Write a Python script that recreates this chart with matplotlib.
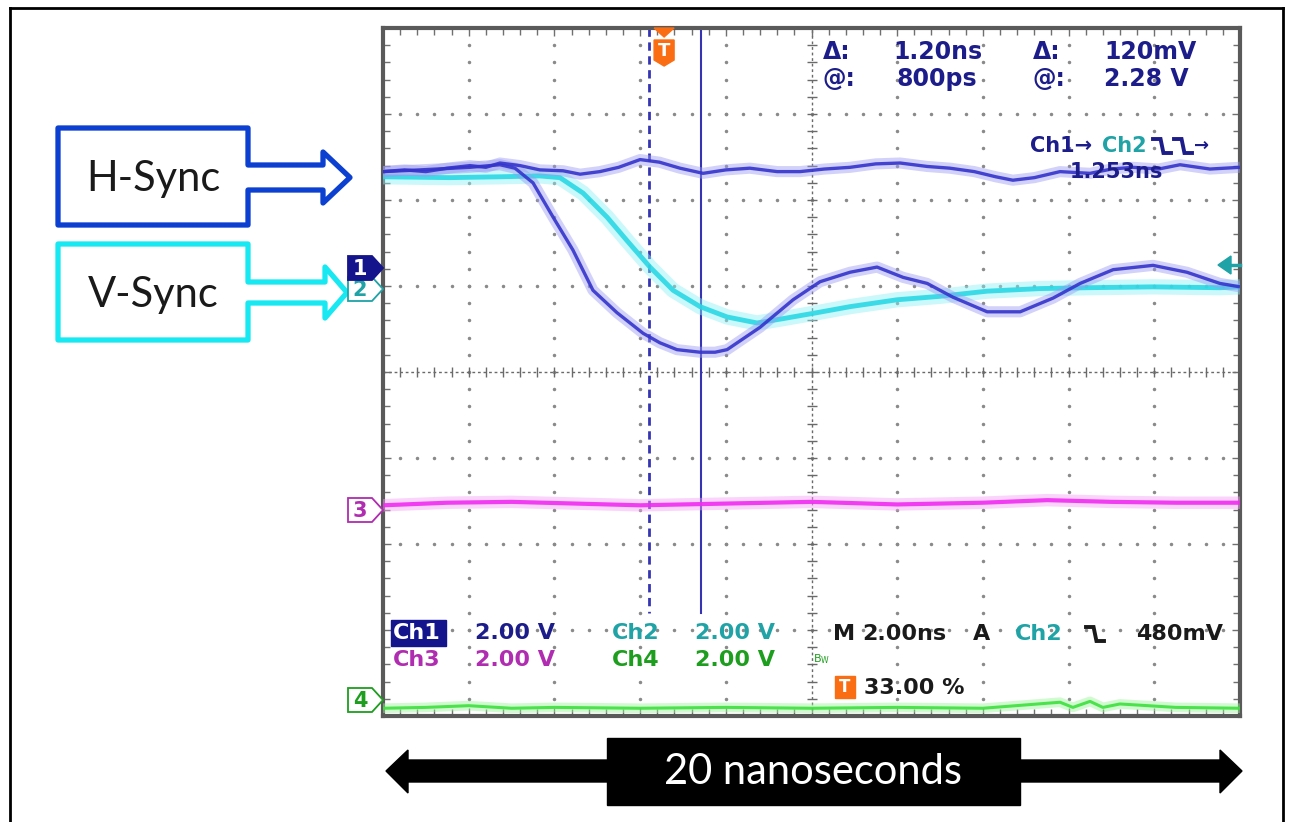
import numpy as np
import matplotlib
matplotlib.use("Agg")
import matplotlib.pyplot as plt
from matplotlib.patches import Polygon, Rectangle

# ---------------- data (time in ns, amplitude in divisions) ----------------
ch1_flat_t = [0.00, 0.50, 1.00, 1.50, 2.03, 2.40, 2.73, 3.20, 3.66, 4.20, 4.60, 5.06, 5.50,
              6.00, 6.45, 6.93, 7.47, 8.00, 8.56, 9.20, 9.73, 10.30, 10.90, 11.50, 12.07,
              12.70, 13.23, 13.80, 14.30, 14.70, 15.20, 15.80, 16.50, 17.00, 17.50, 18.10,
              18.60, 19.30, 20.00]
ch1_flat_v = [2.33, 2.35, 2.33, 2.37, 2.40, 2.38, 2.43, 2.40, 2.35, 2.34, 2.30, 2.33, 2.38,
              2.47, 2.44, 2.37, 2.31, 2.35, 2.37, 2.33, 2.33, 2.36, 2.38, 2.42, 2.43,
              2.39, 2.37, 2.33, 2.27, 2.23, 2.26, 2.33, 2.31, 2.36, 2.38, 2.36,
              2.41, 2.36, 2.38]

ch1_dip_t = [0.00, 0.86, 2.03, 2.73, 3.08, 3.50, 3.97, 4.43, 4.90, 5.46, 6.07, 6.46, 6.86,
             7.40, 7.75, 8.03, 8.80, 9.57, 10.20, 10.90, 11.53, 12.14, 12.70, 13.30, 14.10,
             14.87, 15.64, 16.27, 17.04, 17.97, 18.76, 19.53, 20.00]
ch1_dip_v = [2.33, 2.35, 2.38, 2.41, 2.37, 2.20, 1.80, 1.42, 0.95, 0.69, 0.45, 0.34, 0.26,
             0.23, 0.23, 0.26, 0.52, 0.84, 1.05, 1.16, 1.22, 1.10, 1.03, 0.87, 0.70,
             0.70, 0.86, 1.03, 1.19, 1.24, 1.16, 1.03, 0.99]

ch2_t = [0.00, 1.56, 2.73, 3.66, 4.13, 4.67, 5.23, 5.69, 6.23, 6.77, 7.40, 8.03, 8.73, 9.33,
         10.13, 10.90, 12.00, 13.00, 14.10, 15.33, 16.43, 17.97, 19.53, 20.00]
ch2_v = [2.27, 2.26, 2.27, 2.28, 2.26, 2.08, 1.80, 1.53, 1.22, 0.95, 0.76, 0.64, 0.57, 0.62,
         0.69, 0.76, 0.84, 0.88, 0.94, 0.97, 0.98, 0.99, 0.98, 0.99]

ch3_t = [0.0, 1.5, 3.0, 4.5, 6.0, 8.0, 10.0, 12.0, 14.0, 15.5, 17.0, 18.5, 20.0]
ch3_v = [-1.55, -1.52, -1.51, -1.53, -1.55, -1.53, -1.51, -1.54, -1.52, -1.49, -1.51, -1.52, -1.52]

ch4_t = [0.0, 1.0, 2.0, 3.0, 4.0, 6.0, 8.0, 10.0, 12.0, 14.0, 15.8, 16.1, 16.5, 16.8, 17.2, 18.5, 20.0]
ch4_v = [-3.91, -3.90, -3.88, -3.91, -3.90, -3.91, -3.90, -3.91, -3.90, -3.91, -3.84, -3.90, -3.83, -3.90, -3.86, -3.90, -3.91]

cursor_t = [6.21, 7.42]
trigger_t = 6.56

meas_labels = ["\u0394:", "1.20ns", "\u0394:", "120mV", "@:", "800ps", "@:", "2.28 V"]
ch_scale_labels = ["Ch1", "2.00 V", "Ch2", "2.00 V", "Ch3", "2.00 V", "Ch4", "2.00 V"]
timebase_labels = ["M", "2.00ns", "A", "Ch2", "480mV"]
trig_pos_label = "33.00 %"
delay_label = "1.253ns"
signal_names = ["H-Sync", "V-Sync"]
span_label = "20 nanoseconds"

# ---------------- colours ----------------
NAVY = "#1c1c8a"
BLUE = "#3434cc"
BLUE_H = "#9a9af2"
CYAN = "#2ad8e4"
CYAN_H = "#8cf0f4"
TEAL = "#1fa3a6"
MAG = "#f02cf0"
MAG_T = "#b02cb0"
GRN = "#3ee03e"
GRN_T = "#1e9e1e"
ORANGE = "#fb6d12"
TXT = "#1a1a1a"

W, H = 1291, 822
fig = plt.figure(figsize=(W / 100, H / 100), dpi=100)
fig.patch.set_facecolor("white")

L, R, T, B = 383, 1240, 28, 716
ax = fig.add_axes([L / W, 1 - B / H, (R - L) / W, (B - T) / H])
ax.set_xlim(0, 20)
ax.set_ylim(-4, 4)
ax.set_facecolor("white")
for s in ax.spines.values():
    s.set_color("#5a5a5a")
    s.set_linewidth(3)
ax.set_xticks(np.arange(0, 20.01, 2))
ax.set_xticks(np.arange(0, 20.01, 0.4), minor=True)
ax.set_yticks(np.arange(-4, 4.01, 1))
ax.set_yticks(np.arange(-4, 4.01, 0.2), minor=True)
ax.tick_params(which="both", direction="in", top=True, right=True, bottom=True, left=True,
               labelbottom=False, labelleft=False, color="#707070", width=1)
ax.tick_params(which="major", length=6)
ax.tick_params(which="minor", length=5)

# graticule dots
gcol = "#8a8a8a"
for tx in [2, 4, 6, 8, 12, 14, 16, 18]:
    yy = np.arange(-4, 4.01, 0.2)
    ax.plot([tx] * len(yy), yy, ls="none", marker="o", ms=1.5, color=gcol, zorder=1)
for dy in [-3, -2, -1, 1, 2, 3]:
    xx = np.arange(0, 20.01, 0.4)
    ax.plot(xx, [dy] * len(xx), ls="none", marker="o", ms=1.5, color=gcol, zorder=1)
# centre cross
ax.axhline(0, color="#6a6a6a", lw=1, ls=(0, (2, 2)), zorder=1)
ax.axvline(10, color="#6a6a6a", lw=1, ls=(0, (2, 2)), zorder=1)
xx = np.arange(0, 20.01, 0.4)
ax.plot(xx, [0] * len(xx), ls="none", marker="|", ms=7, mew=1, color="#6a6a6a", zorder=1)
yy = np.arange(-4, 4.01, 0.2)
ax.plot([10] * len(yy), yy, ls="none", marker="_", ms=7, mew=1, color="#6a6a6a", zorder=1)

# cursors
ax.plot([cursor_t[0]] * 2, [4, -2.8], color="#3434b4", lw=2.0, ls=(0, (3, 2)), zorder=2)
ax.plot([cursor_t[1]] * 2, [4, -2.8], color="#3434b4", lw=1.5, zorder=2)

# traces
def trace(t, v, core, halo, hw, cw, z):
    ax.plot(t, v, color=halo, lw=hw, alpha=0.45, solid_capstyle="butt", zorder=z)
    ax.plot(t, v, color=core, lw=cw, alpha=0.9, solid_capstyle="butt", zorder=z + 0.1)

trace(ch4_t, ch4_v, GRN, "#9af59a", 7, 2.2, 3)
trace(ch3_t, ch3_v, MAG, "#f8a0f8", 9, 3.0, 3)
trace(ch2_t, ch2_v, CYAN, CYAN_H, 11, 3.5, 4)
trace(ch1_flat_t, ch1_flat_v, BLUE, BLUE_H, 8, 2.4, 5)
trace(ch1_dip_t, ch1_dip_v, BLUE, BLUE_H, 8, 2.4, 5)

# ---------------- overlay in pixel coords ----------------
ov = fig.add_axes([0, 0, 1, 1], zorder=5)
ov.set_xlim(0, W)
ov.set_ylim(H, 0)
ov.axis("off")
ov.patch.set_alpha(0)

# outer frame
ov.plot([10, 10], [8, H], color="black", lw=2)
ov.plot([10, 1283], [8, 8], color="black", lw=2)
ov.plot([1283, 1283], [8, H], color="black", lw=2)

def block_arrow_box(x0, x1, y0, y1, sh0, sh1, hb, h0, h1, tip, col):
    yc = (h0 + h1) / 2
    pts = [(x0, y0), (x1, y0), (x1, sh0), (hb, sh0), (hb, h0), (tip, yc),
           (hb, h1), (hb, sh1), (x1, sh1), (x1, y1), (x0, y1)]
    ov.add_patch(Polygon(pts, closed=True, fill=False, ec=col, lw=3.8, joinstyle="round"))

block_arrow_box(58, 248, 128, 225, 165, 190, 323, 152, 203, 350, "#0b40d0")
block_arrow_box(58, 248, 244, 340, 282, 303, 325, 267, 318, 347, "#18e8f2")
ov.text(153, 179, signal_names[0], fontsize=30, family="Lato", color=TXT, ha="center", va="center")
ov.text(153, 295, signal_names[1], fontsize=30, family="Lato", color=TXT, ha="center", va="center")

# span arrow
ov.add_patch(Polygon([(386, 771), (408, 750), (408, 760), (1220, 760), (1220, 750), (1242, 771),
                      (1220, 793), (1220, 782), (408, 782), (408, 793)], closed=True,
                     fc="black", ec="black", lw=1))
ov.add_patch(Rectangle((607, 738), 413, 67, fc="black", ec="black"))
ov.text(813, 772, span_label, fontsize=30, family="Lato", color="white", ha="center", va="center")

# channel markers on the left edge
def marker(yc, col, label, filled, txtcol, z=6):
    x0, x1, tipx = 348, 372, 383
    pts = [(x0, yc - 12), (x1, yc - 12), (tipx, yc), (x1, yc + 12), (x0, yc + 12)]
    ov.add_patch(Polygon(pts, closed=True, fc=col if filled else "white", ec=col, lw=1.3, zorder=z))
    ov.text(360, yc + 1, label, fontsize=15, color=txtcol, ha="center", va="center",
            fontweight="bold", zorder=z + 0.5)

marker(289, TEAL, "2", False, TEAL, z=5)
marker(268, "#14148c", "1", True, "white", z=6)
marker(510, MAG_T, "3", False, MAG_T)
marker(700, GRN_T, "4", False, GRN_T)

# right-side level arrow
ov.add_patch(Polygon([(1218, 265), (1231, 256), (1231, 274)], closed=True, fc=TEAL, ec=TEAL))
ov.plot([1229, 1240], [265, 265], color=TEAL, lw=2.5)

# trigger marker on top
tx = L + (R - L) * trigger_t / 20
ov.add_patch(Polygon([(tx - 10, 28), (tx + 10, 28), (tx, 37)], closed=True, fc=ORANGE, ec=ORANGE))
ov.add_patch(Polygon([(tx - 10, 40), (tx + 10, 40), (tx + 10, 60), (tx, 66), (tx - 10, 60)],
                     closed=True, fc=ORANGE, ec=ORANGE))
ov.text(tx, 51, "T", fontsize=13, color="white", fontweight="bold", ha="center", va="center")

# measurement readouts
fs = 17
mx = [823, 893, 1033, 1104, 823, 897, 1033, 1104]
my = [52, 52, 52, 52, 79, 79, 79, 79]
for s, x, y in zip(meas_labels, mx, my):
    ov.text(x, y, s, fontsize=fs, color=NAVY, ha="left", va="center", fontweight="bold")

def falling(x0, yc, col, w=18, h=14):
    ov.plot([x0, x0 + w * 0.42, x0 + w * 0.58, x0 + w], [yc - h / 2, yc - h / 2, yc + h / 2, yc + h / 2],
            color=col, lw=2.8, solid_joinstyle="miter")

ov.text(1030, 146, "Ch1\u2192", fontsize=fs - 2, color=NAVY, ha="left", va="center", fontweight="bold")
ov.text(1102, 146, "Ch2", fontsize=fs - 2, color=TEAL, ha="left", va="center", fontweight="bold")
falling(1153, 146, NAVY, w=18)
falling(1174, 146, NAVY, w=18)
ov.text(1194, 146, "\u2192", fontsize=fs - 4, color=NAVY, ha="left", va="center", fontweight="bold")
ov.text(1070, 172, delay_label, fontsize=fs - 2, color=NAVY, ha="left", va="center", fontweight="bold")

# bottom readouts
fs2 = 16
bw = "bold"
ov.add_patch(Rectangle((391, 620), 55, 26, fc="#14148c", ec="#14148c"))
ov.text(393, 633, ch_scale_labels[0], fontsize=fs2, color="white", ha="left", va="center", fontweight=bw)
ov.text(475, 633, ch_scale_labels[1], fontsize=fs2, color=NAVY, ha="left", va="center", fontweight=bw)
ov.text(612, 633, ch_scale_labels[2], fontsize=fs2, color=TEAL, ha="left", va="center", fontweight=bw)
ov.text(695, 633, ch_scale_labels[3], fontsize=fs2, color=TEAL, ha="left", va="center", fontweight=bw)
ov.text(393, 660, ch_scale_labels[4], fontsize=fs2, color=MAG_T, ha="left", va="center", fontweight=bw)
ov.text(475, 660, ch_scale_labels[5], fontsize=fs2, color=MAG_T, ha="left", va="center", fontweight=bw)
ov.text(612, 660, ch_scale_labels[6], fontsize=fs2, color=GRN_T, ha="left", va="center", fontweight=bw)
ov.text(695, 660, ch_scale_labels[7], fontsize=fs2, color=GRN_T, ha="left", va="center", fontweight=bw)

ov.text(833, 634, timebase_labels[0], fontsize=fs2, color=TXT, ha="left", va="center", fontweight=bw)
ov.text(862, 634, timebase_labels[1], fontsize=fs2, color=TXT, ha="left", va="center", fontweight=bw)
ov.text(973, 634, timebase_labels[2], fontsize=fs2, color=TXT, ha="left", va="center", fontweight=bw)
ov.text(1015, 634, timebase_labels[3], fontsize=fs2, color=TEAL, ha="left", va="center", fontweight=bw)
falling(1086, 634, TXT, w=18)
ov.text(1136, 634, timebase_labels[4], fontsize=fs2, color=TXT, ha="left", va="center", fontweight=bw)

ov.text(813, 659, r"$\mathregular{B_W}$", fontsize=8, color=GRN_T, ha="left", va="center")
ov.add_patch(Rectangle((835, 676), 20, 22, fc=ORANGE, ec=ORANGE))
ov.text(845, 687, "T", fontsize=12, color="white", fontweight="bold", ha="center", va="center")
ov.text(864, 688, trig_pos_label, fontsize=fs2, color=TXT, ha="left", va="center", fontweight=bw)

fig.savefig("out.png", dpi=100, facecolor="white")
